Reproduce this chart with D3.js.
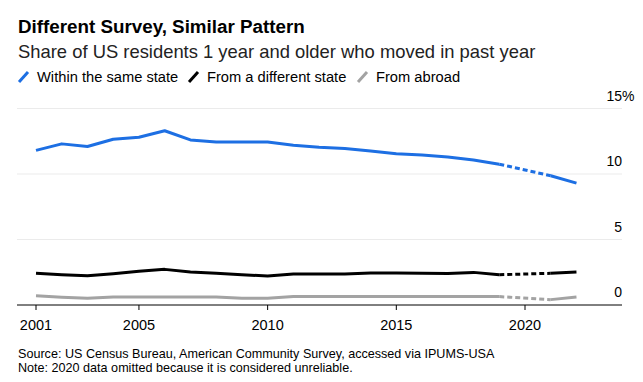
<!DOCTYPE html>
<html>
<head>
<meta charset="utf-8">
<script src="https://cdn.jsdelivr.net/npm/d3@7"></script>
<style>
  body { margin: 0; background: #fff; }
  svg { font-family: "Liberation Sans", Arial, sans-serif; }
</style>
</head>
<body>
<div id="chart"></div>
<script>
// === Data (2020 omitted, drawn as a dashed bridge) ===
const years = [2001, 2002, 2003, 2004, 2005, 2006, 2007, 2008, 2009, 2010, 2011,
  2012, 2013, 2014, 2015, 2016, 2017, 2018, 2019, 2020, 2021, 2022];
const sameState = [11.8, 12.3, 12.1, 12.65, 12.8, 13.3, 12.6, 12.45, 12.45, 12.45, 12.2,
  12.05, 11.95, 11.75, 11.55, 11.45, 11.3, 11.07, 10.75, null, 9.87, 9.3];
const diffState = [2.42, 2.31, 2.24, 2.39, 2.57, 2.72, 2.52, 2.42, 2.31, 2.21, 2.37,
  2.37, 2.37, 2.44, 2.44, 2.42, 2.4, 2.49, 2.31, null, 2.42, 2.52];
const abroad = [0.71, 0.6, 0.51, 0.61, 0.61, 0.61, 0.61, 0.61, 0.51, 0.51, 0.64,
  0.64, 0.64, 0.64, 0.64, 0.64, 0.64, 0.64, 0.64, null, 0.41, 0.61];
const yTicks = [0, 5, 10, 15];
const xTicks = [2001, 2005, 2010, 2015, 2020];

const seriesNames = ['Within the same state', 'From a different state', 'From abroad'];
const seriesColors = ['#1d6fe3', '#000000', '#a3a3a3'];
const seriesValues = [sameState, diffState, abroad];

const W = 643, H = 382;
const svg = d3.select('#chart').append('svg').attr('width', W).attr('height', H);

const x = d3.scaleLinear().domain([2001, 2020]).range([36, 525]);
const y = d3.scaleLinear().domain([0, 15]).range([305, 108.5]);

// Title block
svg.append('text').attr('x', 18).attr('y', 33)
  .attr('font-size', '18.8px').attr('font-weight', 'bold').attr('fill', '#000')
  .text('Different Survey, Similar Pattern');
svg.append('text').attr('x', 18).attr('y', 58)
  .attr('font-size', '18.4px').attr('fill', '#222')
  .text('Share of US residents 1 year and older who moved in past year');

// Legend
const legendX = [18, 188, 357];
seriesNames.forEach((name, i) => {
  const g = svg.append('g').attr('transform', `translate(${legendX[i]},0)`);
  g.append('line')
    .attr('x1', 1).attr('y1', 82).attr('x2', 10).attr('y2', 72)
    .attr('stroke', seriesColors[i]).attr('stroke-width', 3);
  g.append('text').attr('x', 19).attr('y', 82)
    .attr('font-size', '14.7px').attr('fill', '#000').text(name);
});

// Gridlines + y labels
yTicks.forEach(t => {
  if (t > 0) {
    svg.append('line')
      .attr('x1', 17).attr('x2', 622).attr('y1', y(t)).attr('y2', y(t))
      .attr('stroke', '#ebebeb').attr('stroke-width', 1);
  }
  svg.append('text').attr('x', 622).attr('y', y(t) - 8)
    .attr('font-size', '14px').attr('fill', '#000').attr('text-anchor', 'end')
    .text(t);
  if (t === 15) {
    svg.append('text').attr('x', 622).attr('y', y(t) - 8)
      .attr('font-size', '14px').attr('fill', '#000').text('%');
  }
});

// Series lines
const solid = d3.line()
  .defined(d => d.v !== null)
  .x(d => x(d.year)).y(d => y(d.v));

seriesValues.forEach((vals, i) => {
  const pts = years.map((yr, j) => ({ year: yr, v: vals[j] }));
  svg.append('path').datum(pts)
    .attr('d', solid)
    .attr('fill', 'none').attr('stroke', seriesColors[i])
    .attr('stroke-width', 3).attr('stroke-linejoin', 'round');
  // dashed bridge over the missing year
  const gap = years.indexOf(2020);
  const bridge = [pts[gap - 1], pts[gap + 1]];
  svg.append('path').datum(bridge)
    .attr('d', solid)
    .attr('fill', 'none').attr('stroke', seriesColors[i])
    .attr('stroke-width', 3).attr('stroke-dasharray', '5,3');
});

// X axis
const xAxis = svg.append('g').attr('transform', `translate(0,${y(0)})`);
xAxis.append('line').attr('x1', 17).attr('x2', 622)
  .attr('stroke', '#000').attr('stroke-width', 1);
xTicks.forEach(t => {
  xAxis.append('line').attr('x1', x(t)).attr('x2', x(t)).attr('y1', 0).attr('y2', 5)
    .attr('stroke', '#000').attr('stroke-width', 1);
  xAxis.append('text').attr('x', x(t)).attr('y', 25)
    .attr('text-anchor', 'middle').attr('font-size', '14.5px').attr('fill', '#000')
    .text(t);
});

// Footer
svg.append('text').attr('x', 18).attr('y', 358)
  .attr('font-size', '12.6px').attr('fill', '#000')
  .text('Source: US Census Bureau, American Community Survey, accessed via IPUMS-USA');
svg.append('text').attr('x', 18).attr('y', 372)
  .attr('font-size', '12.6px').attr('fill', '#000')
  .text('Note: 2020 data omitted because it is considered unreliable.');
</script>
</body>
</html>
